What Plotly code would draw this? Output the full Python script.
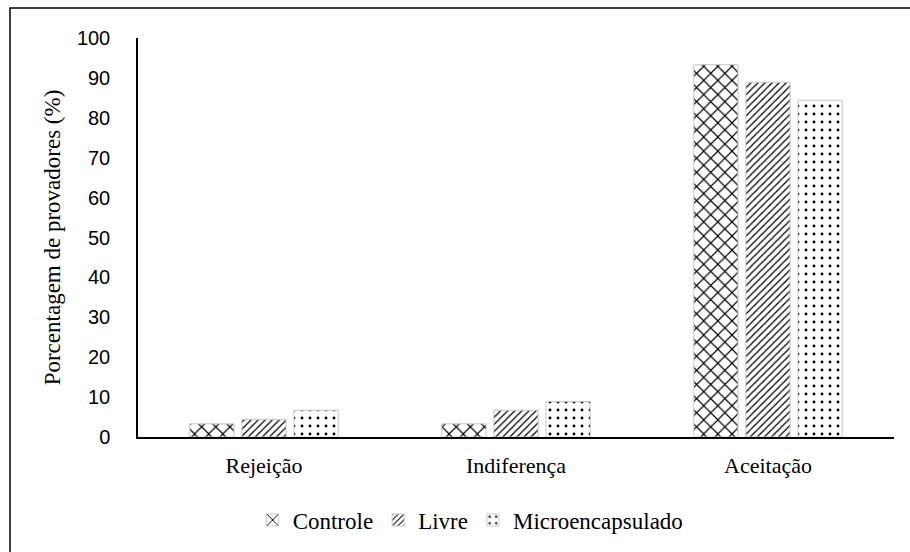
import plotly.graph_objects as go

categorias = ["Rejeição", "Indiferença", "Aceitação"]
controle = [3.3, 3.3, 93.3]
livre = [4.4, 6.7, 88.9]
microencapsulado = [6.7, 8.9, 84.4]
y_ticks = [0, 10, 20, 30, 40, 50, 60, 70, 80, 90, 100]

series = [
    ("Controle", controle, "x", 10, 0.22),
    ("Livre", livre, "/", 5, 0.25),
    ("Microencapsulado", microencapsulado, ".", 8, 0.1),
]

serif = "Liberation Serif"

fig = go.Figure()
for nome, valores, forma, tam, solid in series:
    fig.add_trace(go.Bar(
        name=nome,
        x=categorias,
        y=valores,
        marker=dict(
            color="white",
            line=dict(color="#c8c8c8", width=1),
            pattern=dict(shape=forma, fgcolor="black", bgcolor="white",
                         size=tam, solidity=solid, fillmode="replace"),
        ),
    ))

fig.update_layout(
    template="none",
    width=910, height=552,
    margin=dict(l=138, r=16, t=38, b=114),
    font=dict(family=serif, size=23, color="black"),
    paper_bgcolor="white", plot_bgcolor="white",
    barmode="group", bargap=0.38, bargroupgap=0.15,
    showlegend=True,
    legend=dict(orientation="h", x=0.44, xanchor="center", y=-0.205, yanchor="middle",
                font=dict(family=serif, size=23, color="black", style="normal"),
                itemwidth=30, traceorder="normal"),
    xaxis=dict(
        showline=True, linecolor="black", linewidth=2,
        ticks="", showgrid=False, zeroline=False,
        tickfont=dict(family=serif, size=22, color="black"),
        ticklabelstandoff=8,
    ),
    yaxis=dict(
        range=[0, 100], tickvals=y_ticks,
        showline=True, linecolor="black", linewidth=1.5,
        ticks="", showgrid=False, zeroline=False,
        tickfont=dict(family="Liberation Sans", size=20, color="black"),
        ticklabelstandoff=22,
        title=dict(text="Porcentagem de provadores (%)",
                   font=dict(family=serif, size=23, color="black"),
                   standoff=10),
    ),
    shapes=[dict(type="rect", xref="paper", yref="paper",
                 x0=-0.1693, y0=-0.5, x1=1.2, y1=1.075,
                 line=dict(color="black", width=1.5), fillcolor="rgba(0,0,0,0)",
                 layer="below")],
)

fig.write_html("out.html")
